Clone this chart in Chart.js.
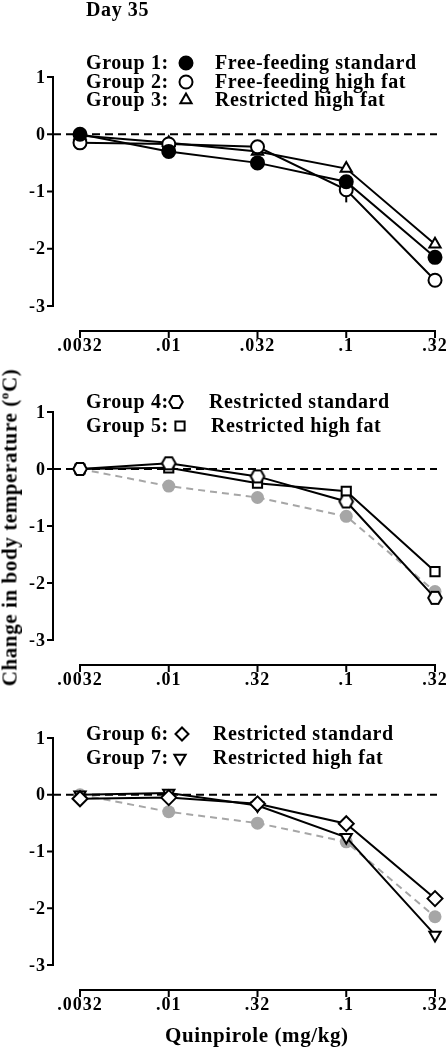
<!DOCTYPE html>
<html>
<head>
<meta charset="utf-8">
<script src="https://cdn.jsdelivr.net/npm/chart.js@4"></script>
<style>
  body { margin: 0; background: #fff; }
  #page { position: relative; width: 448px; height: 1050px; overflow: hidden;
          font-family: "Liberation Serif", "Times New Roman", serif; font-weight: bold; color: #000; }
  canvas { position: absolute; left: 0; }
  .txt { position: absolute; white-space: nowrap; font-size: 20px; line-height: 1; letter-spacing: 0.6px; }
  .ytitle { position: absolute; width: 400px; text-align: center; font-size: 21px; line-height: 1;
            letter-spacing: 0.6px; left: -190px; top: 517px; transform: rotate(-90deg); white-space: nowrap; }
  sup { font-size: 13px; vertical-align: 8px; line-height: 0; }
</style>
</head>
<body>
<div id="page">
  <canvas id="p1" width="448" height="360" style="top:0px"></canvas>
  <canvas id="p2" width="448" height="345" style="top:360px"></canvas>
  <canvas id="p3" width="448" height="340" style="top:690px"></canvas>

  <div class="txt" style="left:86px;top:-1px">Day 35</div>

  <div class="txt" style="left:86px;top:52px">Group 1:</div>
  <div class="txt" style="left:215px;top:52px">Free-feeding standard</div>
  <div class="txt" style="left:86px;top:71px">Group 2:</div>
  <div class="txt" style="left:215px;top:71px">Free-feeding high fat</div>
  <div class="txt" style="left:86px;top:89px">Group 3:</div>
  <div class="txt" style="left:215px;top:89px">Restricted high fat</div>

  <div class="txt" style="left:86px;top:391px">Group 4:</div>
  <div class="txt" style="left:209px;top:391px">Restricted standard</div>
  <div class="txt" style="left:86px;top:415px">Group 5:</div>
  <div class="txt" style="left:211px;top:415px">Restricted high fat</div>

  <div class="txt" style="left:86px;top:723px">Group 6:</div>
  <div class="txt" style="left:213px;top:723px">Restricted standard</div>
  <div class="txt" style="left:86px;top:747px">Group 7:</div>
  <div class="txt" style="left:213px;top:747px">Restricted high fat</div>

  <div class="ytitle">Change in body temperature (<sup>o</sup>C)</div>
  <div class="txt" style="left:165px;top:1025px;font-size:21px">Quinpirole (mg/kg)</div>
</div>

<script>
// doses (x categories) and tick labels as printed in each panel
const doses = [".0032", ".01", ".032", ".1", ".32"];
const doseLabelsTop = [".0032", ".01", ".032", ".1", ".32"];
const doseLabelsLower = [".0032", ".01", ".32", ".1", ".32"];
const yTicks = [1, 0, -1, -2, -3];

// change in body temperature (deg C)
const group1 = [0, -0.3, -0.5, -0.83, -2.15];
const group2 = [-0.15, -0.17, -0.22, -0.97, -2.55];
const group2Err = [0, 0, 0, 0.22, 0];
const group3 = [-0.02, -0.15, -0.3, -0.6, -1.92];
const group4 = [0, 0.1, -0.13, -0.57, -2.26];
const group5 = [0, 0.02, -0.25, -0.39, -1.8];
const group6 = [-0.07, -0.05, -0.16, -0.51, -1.83];
const group7 = [0, 0.03, -0.19, -0.75, -2.47];

// hexagon marker image
function hexagon() {
  const c = document.createElement("canvas");
  c.width = 18; c.height = 18;
  const g = c.getContext("2d");
  g.beginPath();
  for (let i = 0; i < 6; i++) {
    const a = Math.PI / 3 * i;
    const px = 9 + 6.8 * Math.cos(a), py = 9 + 6.8 * Math.sin(a);
    if (i === 0) g.moveTo(px, py); else g.lineTo(px, py);
  }
  g.closePath();
  g.fillStyle = "#fff"; g.fill();
  g.lineWidth = 2; g.strokeStyle = "#000"; g.stroke();
  return c;
}
const hexImg = hexagon();

function series(data, style, fill, opts) {
  return Object.assign({
    data: data,
    borderColor: "#000",
    borderWidth: 2,
    pointStyle: style,
    pointRadius: 6.5,
    pointBorderWidth: 2,
    pointBackgroundColor: fill,
    pointBorderColor: "#000",
    tension: 0,
    clip: false,
    order: 1
  }, opts || {});
}

function greyRef() {
  return {
    data: group1,
    borderColor: "#a6a6a6",
    borderWidth: 2,
    borderDash: [7, 5],
    pointStyle: "circle",
    pointRadius: 6.5,
    pointBorderWidth: 0,
    pointBackgroundColor: "#a6a6a6",
    pointBorderColor: "#a6a6a6",
    clip: false,
    order: 10
  };
}

// draws the detached axes, zero line, error bars and legend markers
const figureAxes = {
  id: "figureAxes",
  beforeDatasetsDraw(chart, args, o) {
    const ctx = chart.ctx, a = chart.chartArea;
    const y = chart.scales.y, x = chart.scales.x;
    const ax = a.left - 27;
    ctx.save();
    ctx.strokeStyle = "#000";
    ctx.fillStyle = "#000";
    ctx.lineWidth = 2;
    // y axis
    ctx.beginPath();
    ctx.moveTo(ax, y.getPixelForValue(1));
    ctx.lineTo(ax, y.getPixelForValue(-3));
    yTicks.forEach(v => {
      const py = y.getPixelForValue(v);
      ctx.moveTo(ax - 6, py);
      ctx.lineTo(ax + 1, py);
    });
    ctx.stroke();
    ctx.font = "bold 18px 'Liberation Serif'";
    ctx.letterSpacing = "1px";
    ctx.textAlign = "right";
    ctx.textBaseline = "middle";
    yTicks.forEach(v => {
      ctx.fillText(String(v), ax - 7, y.getPixelForValue(v) + 1);
    });
    // x axis, detached below
    const xl = y.getPixelForValue(-3) + 25;
    ctx.beginPath();
    ctx.moveTo(a.left - 1, xl);
    ctx.lineTo(a.right + 1, xl);
    doses.forEach((d, i) => {
      const px = x.getPixelForValue(i);
      ctx.moveTo(px, xl);
      ctx.lineTo(px, xl + 7);
    });
    ctx.stroke();
    ctx.textAlign = "center";
    o.labels.forEach((t, i) => {
      ctx.fillText(t, x.getPixelForValue(i), xl + 15);
    });
    // dashed zero line
    ctx.setLineDash([8, 5]);
    ctx.beginPath();
    ctx.moveTo(ax, y.getPixelForValue(0));
    ctx.lineTo(a.right + 2, y.getPixelForValue(0));
    ctx.stroke();
    ctx.setLineDash([]);
    // error bars
    chart.data.datasets.forEach(ds => {
      if (!ds.errors) return;
      ctx.beginPath();
      ds.errors.forEach((e, i) => {
        if (!e) return;
        const px = x.getPixelForValue(i);
        ctx.moveTo(px, y.getPixelForValue(ds.data[i] + e));
        ctx.lineTo(px, y.getPixelForValue(ds.data[i] - e));
      });
      ctx.stroke();
    });
    ctx.restore();
  },
  afterDraw(chart, args, o) {
    const ctx = chart.ctx;
    (o.keys || []).forEach(k => {
      const ds = chart.data.datasets[k.ds];
      ctx.save();
      ctx.lineWidth = 2;
      ctx.strokeStyle = "#000";
      ctx.fillStyle = ds.pointBackgroundColor;
      Chart.helpers.drawPoint(ctx, {
        pointStyle: ds.pointStyle,
        radius: 6.5,
        rotation: ds.pointRotation || 0,
        borderWidth: 2
      }, k.x, k.y);
      ctx.restore();
    });
  }
};

function makePanel(id, datasets, labels, pad, keys) {
  return new Chart(document.getElementById(id), {
    type: "line",
    data: { labels: doses, datasets: datasets },
    options: {
      responsive: false,
      animation: false,
      layout: { padding: pad },
      plugins: {
        legend: { display: false },
        tooltip: { enabled: false },
        figureAxes: { labels: labels, keys: keys }
      },
      scales: {
        x: { type: "category", display: false, offset: false },
        y: { min: -3, max: 1, display: false }
      }
    },
    plugins: [figureAxes]
  });
}

makePanel("p1", [
  series(group1, "circle", "#000"),
  series(group2, "circle", "#fff", { errors: group2Err }),
  series(group3, "triangle", "#fff")
], doseLabelsTop, { left: 80, right: 13, top: 77, bottom: 54 }, [
  { ds: 0, x: 186, y: 63 }, { ds: 1, x: 186, y: 82 }, { ds: 2, x: 186, y: 100 }
]);

makePanel("p2", [
  greyRef(),
  series(group4, hexImg, "#fff"),
  series(group5, "rect", "#fff")
], doseLabelsLower, { left: 80, right: 13, top: 52, bottom: 65 }, [
  { ds: 1, x: 176, y: 42 }, { ds: 2, x: 180, y: 66 }
]);

makePanel("p3", [
  greyRef(),
  series(group6, "rectRot", "#fff", { pointRadius: 7.5 }),
  series(group7, "triangle", "#fff", { pointRotation: 180 })
], doseLabelsLower, { left: 80, right: 13, top: 48, bottom: 65 }, [
  { ds: 1, x: 182, y: 44 }, { ds: 2, x: 180, y: 68 }
]);
</script>
</body>
</html>
